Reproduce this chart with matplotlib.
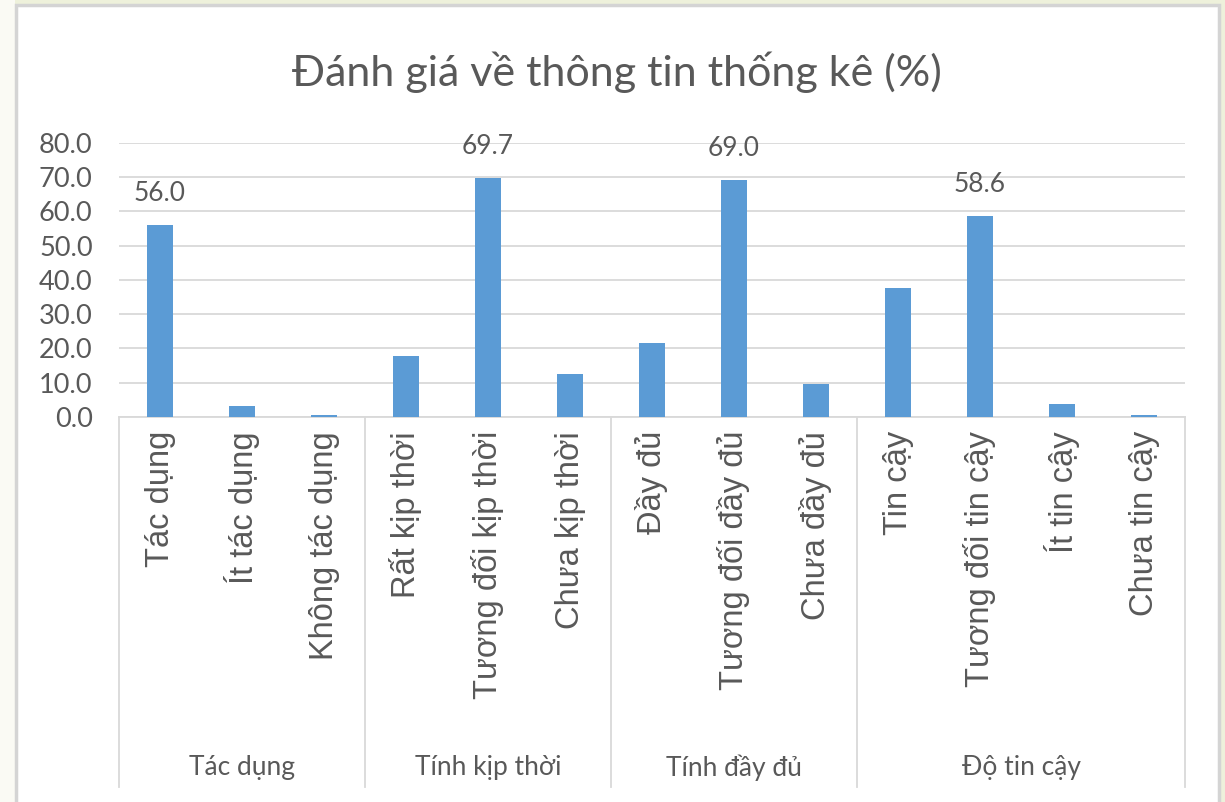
import matplotlib
matplotlib.use("Agg")
import matplotlib.pyplot as plt
from matplotlib.patches import Rectangle
import matplotlib.transforms as mtrans

# du lieu doc tu hinh
nhom = ["Tác dụng", "Tính kịp thời", "Tính đầy đủ", "Độ tin cậy"]
so_muc = [3, 3, 3, 4]
muc = ["Tác dụng", "Ít tác dụng", "Không tác dụng",
       "Rất kịp thời", "Tương đối kịp thời", "Chưa kịp thời",
       "Đầy đủ", "Tương đối đầy đủ", "Chưa đầy đủ",
       "Tin cậy", "Tương đối tin cậy", "Ít tin cậy", "Chưa tin cậy"]
gia_tri = [56.0, 3.2, 0.7,
           17.8, 69.7, 12.6,
           21.5, 69.0, 9.5,
           37.6, 58.6, 3.8, 0.7]
nhan = [56.0, None, None, None, 69.7, None, None, 69.0, None, None, 58.6, None, None]
y_ticks = [0, 10, 20, 30, 40, 50, 60, 70, 80]

W, H = 1225, 802
BLUE = "#5b9bd5"
TXT = "#595959"
GRID = "#d9d9d9"
FONT = "Lato"

fig = plt.figure(figsize=(W / 100, H / 100), dpi=100, facecolor="#eef1db")
# nen: dai trai mau kem, khung trang vien xam
fig.patches.append(Rectangle((0, 0), 15 / W, 1, transform=fig.transFigure,
                             facecolor="#fafaf4", edgecolor="none", zorder=0))
fig.patches.append(Rectangle((16 / W, -0.01), (1219 - 16) / W, (H - 5) / H + 0.01,
                             transform=fig.transFigure, facecolor="white",
                             edgecolor="#d4d4d4", linewidth=2.5, zorder=1))

x0, x1 = 119, 1185
y_top, y_bot = 142.7, 417
ax = fig.add_axes([x0 / W, (H - y_bot) / H, (x1 - x0) / W, (y_bot - y_top) / H])
ax.set_facecolor("none")
ax.set_zorder(2)

xs = list(range(len(muc)))
ax.bar(xs, gia_tri, width=0.32, color=BLUE, zorder=3)
for x, v in zip(xs, nhan):
    if v is not None:
        ax.annotate(f"{v:.1f}", (x, v), xytext=(0, 14), textcoords="offset points",
                    ha="center", va="bottom", fontsize=19, color=TXT, family=FONT)

ax.set_xlim(-0.5, len(muc) - 0.5)
ax.set_ylim(0, 80)
ax.set_yticks(y_ticks)
ax.set_yticklabels([f"{t:.1f}" for t in y_ticks], fontsize=19.5, color=TXT, family=FONT)
ax.yaxis.grid(True, color=GRID, linewidth=1.3)
ax.set_axisbelow(True)
ax.tick_params(axis="y", length=0, pad=19)

ax.set_xticks(xs)
ax.set_xticklabels(muc, rotation=90, fontsize=23.5, color=TXT, family="Liberation Sans")
ax.tick_params(axis="x", length=0, pad=10)

for s in ["top", "right", "left"]:
    ax.spines[s].set_visible(False)
ax.spines["bottom"].set_color(GRID)
ax.spines["bottom"].set_linewidth(1.3)

# truc phan cap: duong ngan nhom va nhan nhom
tr = mtrans.blended_transform_factory(ax.transData, ax.transAxes)
y_end = (y_bot - 787) / (y_bot - y_top)
y_lab = (y_bot - 768) / (y_bot - y_top)
bien = [-0.5]
for n in so_muc:
    bien.append(bien[-1] + n)
for b in bien:
    ax.plot([b, b], [0, y_end], transform=tr, color=GRID, linewidth=1.3, clip_on=False)
for i, ten in enumerate(nhom):
    ax.text((bien[i] + bien[i + 1]) / 2, y_lab, ten, transform=tr, ha="center",
            va="center", fontsize=19, color=TXT, family=FONT)

fig.text(616.5 / W, 1 - 72 / H, "Đánh giá về thông tin thống kê (%)", ha="center",
         va="center", fontsize=31, color=TXT, family=FONT)

fig.savefig("out.png", dpi=100, facecolor=fig.get_facecolor())
